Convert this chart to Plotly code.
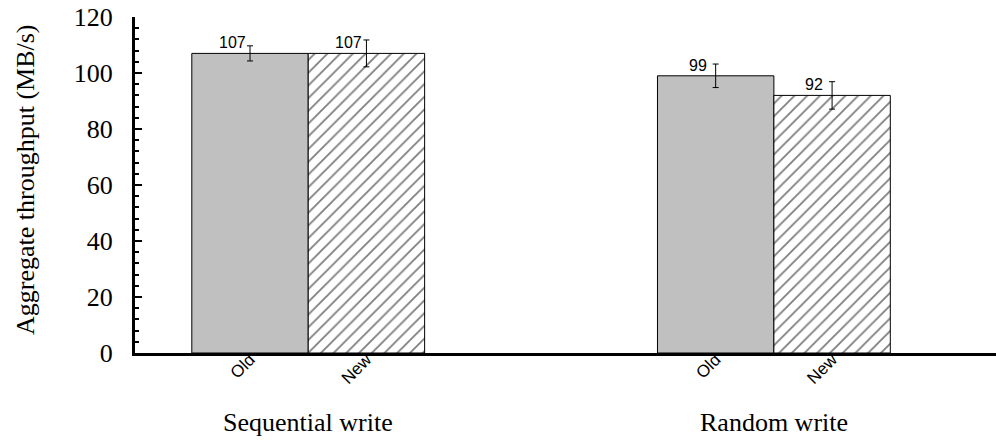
import plotly.graph_objects as go

# Workloads and the two implementations compared
groups = ["Sequential write", "Random write"]
series = ["Old", "New"]

old_throughput = [107, 99]
new_throughput = [107, 92]
old_error = [2.7, 4.2]
new_error = [4.8, 4.9]

y_ticks = [0, 20, 40, 60, 80, 100, 120]

group_pos = list(range(len(groups)))
bar_w = 0.25
old_pos = [g - bar_w / 2 for g in group_pos]
new_pos = [g + bar_w / 2 for g in group_pos]

serif = "Liberation Serif, Times New Roman, serif"
sans = "Liberation Sans, Arial, Helvetica, sans-serif"

fig = go.Figure()

fig.add_trace(go.Bar(
    x=old_pos, y=old_throughput, width=bar_w, name=series[0],
    marker=dict(color="#c0c0c0", line=dict(color="black", width=1)),
    error_y=dict(type="data", array=old_error, color="black", thickness=1, width=3),
))
fig.add_trace(go.Bar(
    x=new_pos, y=new_throughput, width=bar_w, name=series[1],
    marker=dict(
        color="white",
        line=dict(color="black", width=1),
        pattern=dict(shape="/", size=9, solidity=0.2, fgcolor="black", bgcolor="white"),
    ),
    error_y=dict(type="data", array=new_error, color="black", thickness=1, width=3),
))

# value labels above each bar
for xs, vals in ((old_pos, old_throughput), (new_pos, new_throughput)):
    for x, v in zip(xs, vals):
        fig.add_annotation(
            x=x, y=v, text=str(v), showarrow=False,
            xanchor="center", yanchor="bottom", xshift=-18, yshift=0,
            font=dict(family=sans, size=16, color="black"),
        )

# workload names under the axis
for g, name in zip(group_pos, groups):
    fig.add_annotation(
        x=g, y=0, yref="paper", text=name, showarrow=False,
        xanchor="center", yanchor="middle", yshift=-69,
        font=dict(family=serif, size=26, color="black"),
    )

# y axis title
fig.add_annotation(
    x=0, xref="paper", y=0.5, yref="paper", text="Aggregate throughput (MB/s)",
    textangle=-90, showarrow=False, xanchor="center", yanchor="middle",
    xshift=-110, yshift=5,
    font=dict(family=serif, size=26, color="black"),
)

fig.update_layout(
    width=996, height=441,
    margin=dict(l=135, r=0, t=17, b=88),
    paper_bgcolor="white", plot_bgcolor="white",
    showlegend=False,
    barmode="overlay",
    xaxis=dict(
        range=[-0.372, 1.477],
        tickvals=old_pos + new_pos,
        ticktext=[series[0]] * len(groups) + [series[1]] * len(groups),
        tickangle=-45, ticks="", showgrid=False, zeroline=False,
        showline=True, linecolor="black", linewidth=3,
        tickfont=dict(family=sans, size=17, color="black"),
        ticklabelstandoff=-13,
    ),
    yaxis=dict(
        range=[0, 120], tickvals=y_ticks,
        ticks="inside", ticklen=7, tickwidth=2, tickcolor="black",
        minor=dict(dtick=4, ticks="inside", ticklen=4, tickwidth=2, tickcolor="black"),
        showgrid=False, zeroline=False,
        showline=True, linecolor="black", linewidth=3,
        tickfont=dict(family=serif, size=26, color="black"),
        ticklabelstandoff=14,
    ),
)

fig.write_html("out.html")
